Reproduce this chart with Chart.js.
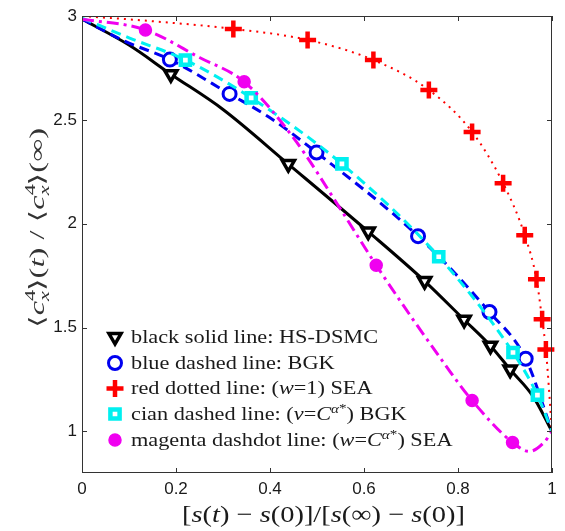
<!DOCTYPE html>
<html>
<head>
<meta charset="utf-8">
<script src="https://cdn.jsdelivr.net/npm/chart.js@4.4.1/dist/chart.umd.min.js"></script>
<style>
html,body{margin:0;padding:0;background:#fff;}
#wrap{width:565px;height:531px;position:relative;}
</style>
</head>
<body>
<div id="wrap"><canvas id="c" width="565" height="531"></canvas></div>
<script>
// ---- tick values / labels ----
const xTickValues = [0, 0.2, 0.4, 0.6, 0.8, 1];
const xTickLabels = ['0', '0.2', '0.4', '0.6', '0.8', '1'];
const yTickValues = [1, 1.5, 2, 2.5, 3];
const yTickLabels = ['1', '1.5', '2', '2.5', '3'];

// ---- black solid line: HS-DSMC ----
const dsmcLineX = [0, 0.1, 0.189, 0.3, 0.439, 0.609, 0.729, 0.813, 0.869, 0.911, 0.96, 1.0];
const dsmcLineY = [2.985, 2.86, 2.72, 2.55, 2.287, 1.962, 1.724, 1.538, 1.413, 1.298, 1.168, 1.0];
const dsmcMarkX = [0.189, 0.439, 0.609, 0.729, 0.813, 0.869, 0.911];
const dsmcMarkY = [2.72, 2.287, 1.962, 1.724, 1.538, 1.413, 1.298];

// ---- blue dashed line: BGK ----
const bgkLineX = [0, 0.09, 0.187, 0.314, 0.40, 0.499, 0.715, 0.867, 0.944, 1.0];
const bgkLineY = [2.985, 2.88, 2.79, 2.625, 2.51, 2.343, 1.94, 1.575, 1.35, 1.0];
const bgkMarkX = [0.187, 0.314, 0.499, 0.715, 0.867, 0.944];
const bgkMarkY = [2.79, 2.625, 2.343, 1.94, 1.575, 1.35];

// ---- red dotted line: (w=1) SEA ----
const seaLineX = [0, 0.15, 0.322, 0.48, 0.62, 0.738, 0.83, 0.896, 0.942, 0.967, 0.979, 0.987, 1.0];
const seaLineY = [3.0, 2.975, 2.938, 2.885, 2.788, 2.644, 2.442, 2.195, 1.945, 1.733, 1.54, 1.394, 1.0];
const seaMarkX = [0.322, 0.48, 0.62, 0.738, 0.83, 0.896, 0.942, 0.967, 0.979, 0.987];
const seaMarkY = [2.938, 2.885, 2.788, 2.644, 2.442, 2.195, 1.945, 1.733, 1.54, 1.394];

// ---- cian dashed line: (nu=C^alpha*) BGK ----
const bgkCLineX = [0, 0.1, 0.22, 0.36, 0.553, 0.759, 0.917, 0.969, 1.0];
const bgkCLineY = [2.99, 2.895, 2.788, 2.606, 2.288, 1.841, 1.38, 1.175, 1.0];
const bgkCMarkX = [0.22, 0.36, 0.553, 0.759, 0.917, 0.969];
const bgkCMarkY = [2.788, 2.606, 2.288, 1.841, 1.38, 1.175];

// ---- magenta dashdot line: (w=C^alpha*) SEA ----
const seaCLineX = [0, 0.135, 0.25, 0.345, 0.45, 0.551, 0.626, 0.78, 0.83, 0.916, 0.952, 0.983, 1.0];
const seaCLineY = [2.985, 2.933, 2.80, 2.683, 2.413, 2.067, 1.80, 1.298, 1.149, 0.947, 0.904, 0.947, 1.0];
const seaCMarkX = [0.135, 0.345, 0.626, 0.83, 0.916];
const seaCMarkY = [2.933, 2.683, 1.80, 1.149, 0.947];

const pts = (xs, ys) => xs.map((v, i) => ({x: v, y: ys[i]}));

const COL = {black:'#000000', blue:'#0000f0', red:'#ff0000', cyan:'#00f0f0', magenta:'#f000f0'};

function lineDs(xs, ys, color, width, dash, order) {
  return {data: pts(xs, ys), showLine: true, borderColor: color, borderWidth: width,
    borderDash: dash, pointRadius: 0, pointHoverRadius: 0, fill: false,
    cubicInterpolationMode: 'monotone', order: order};
}
function markDs(xs, ys, style, order) {
  return Object.assign({data: pts(xs, ys), showLine: false, clip: false, order: order}, style);
}

const MS = {
  black: {pointStyle:'triangle', rotation:180, pointRadius:7, pointBorderWidth:3.5,
          pointBackgroundColor:'#ffffff', pointBorderColor:COL.black},
  blue: {pointStyle:'circle', pointRadius:6.5, pointBorderWidth:3,
          pointBackgroundColor:'#ffffff', pointBorderColor:COL.blue},
  red: {pointStyle:'cross', pointRadius:8.5, pointBorderWidth:4.5,
          pointBackgroundColor:COL.red, pointBorderColor:COL.red},
  cyan: {pointStyle:'rect', pointRadius:6.5, pointBorderWidth:4.5,
          pointBackgroundColor:'#ffffff', pointBorderColor:COL.cyan},
  magenta: {pointStyle:'circle', pointRadius:6, pointBorderWidth:1.5,
          pointBackgroundColor:COL.magenta, pointBorderColor:COL.magenta}
};

const MATH = '"Liberation Serif", "DejaVu Serif", serif';
function fontOf(r, size, fam) {
  return (r.it ? 'italic ' : '') + (size * (r.s || 1)).toFixed(2) + 'px ' + fam;
}
function runsWidth(ctx, runs, size, fam) {
  let w = 0;
  for (const r of runs) { ctx.font = fontOf(r, size, fam); if (r.adv !== false) w += ctx.measureText(r.t).width; }
  return w;
}
function drawRuns(ctx, runs, x, y, size, fam) {
  let cx = x;
  for (const r of runs) {
    ctx.font = fontOf(r, size, fam);
    ctx.fillText(r.t, cx, y + (r.dy || 0) * size);
    if (r.adv !== false) cx += ctx.measureText(r.t).width;
  }
}
function drawFitted(ctx, runs, x, y, size, fam, targetW, center) {
  const w = runsWidth(ctx, runs, size, fam);
  const sx = targetW / w;
  ctx.save();
  ctx.translate(center ? x - targetW / 2 : x, y);
  ctx.scale(sx, 1);
  drawRuns(ctx, runs, 0, 0, size, fam);
  ctx.restore();
  return sx;
}

const yTitleRuns = [
  {t:'\u27E8'}, {t:'c', it:1}, {t:'4', s:.68, dy:-.42, adv:false}, {t:'x', it:1, s:.68, dy:.22},
  {t:'\u27E9('}, {t:'t', it:1}, {t:') / \u27E8'}, {t:'c', it:1}, {t:'4', s:.68, dy:-.42, adv:false},
  {t:'x', it:1, s:.68, dy:.22}, {t:'\u27E9('}, {t:'\u221E'}, {t:')'}
];
const xTitleRuns = [
  {t:'['}, {t:'s', it:1}, {t:'('}, {t:'t', it:1}, {t:') \u2212 '}, {t:'s', it:1}, {t:'(0)]/['},
  {t:'s', it:1}, {t:'(\u221E) \u2212 '}, {t:'s', it:1}, {t:'(0)]'}
];
const legendRows = [
  {m:'black', runs:[{t:'black solid line: HS-DSMC'}]},
  {m:'blue', runs:[{t:'blue dashed line: BGK'}]},
  {m:'red', runs:[{t:'red dotted line: ('}, {t:'w', it:1}, {t:'=1) SEA'}]},
  {m:'cyan', runs:[{t:'cian dashed line: ('}, {t:'\u03BD', it:1}, {t:'='}, {t:'C', it:1},
     {t:'\u03B1', it:1, s:.68, dy:-.4}, {t:'*', s:.68, dy:-.45}, {t:') BGK'}]},
  {m:'magenta', runs:[{t:'magenta dashdot line: ('}, {t:'w', it:1}, {t:'='}, {t:'C', it:1},
     {t:'\u03B1', it:1, s:.68, dy:-.4}, {t:'*', s:.68, dy:-.45}, {t:') SEA'}]}
];

function drawMarker(ctx, m, x, y) {
  const st = MS[m];
  ctx.save();
  ctx.lineWidth = st.pointBorderWidth;
  ctx.strokeStyle = st.pointBorderColor;
  ctx.fillStyle = st.pointBackgroundColor;
  const r = st.pointRadius;
  ctx.beginPath();
  if (m === 'black') {
    ctx.moveTo(x, y + r); ctx.lineTo(x - r * 0.866, y - r * 0.5); ctx.lineTo(x + r * 0.866, y - r * 0.5); ctx.closePath();
    ctx.fill(); ctx.stroke();
  } else if (m === 'blue' || m === 'magenta') {
    ctx.arc(x, y, r, 0, Math.PI * 2); ctx.fill(); ctx.stroke();
  } else if (m === 'red') {
    ctx.moveTo(x - r, y); ctx.lineTo(x + r, y); ctx.moveTo(x, y - r); ctx.lineTo(x, y + r); ctx.stroke();
  } else if (m === 'cyan') {
    const h = r * Math.SQRT1_2; ctx.rect(x - h, y - h, 2 * h, 2 * h); ctx.fill(); ctx.stroke();
  }
  ctx.restore();
}

const decor = {
  id: 'decor',
  afterDatasetsDraw(chart) {
    const ctx = chart.ctx;
    const {left, right, top, bottom} = chart.chartArea;
    const xs = chart.scales.x, ys = chart.scales.y;
    ctx.save();
    ctx.strokeStyle = '#333';
    ctx.lineWidth = 1;
    ctx.strokeRect(left + 0.5, top + 0.5, right - left - 1, bottom - top - 1);
    ctx.beginPath();
    const tl = 5;
    for (const v of xTickValues) {
      const px = Math.round(xs.getPixelForValue(v)) + 0.5;
      ctx.moveTo(px, bottom); ctx.lineTo(px, bottom - tl);
      ctx.moveTo(px, top); ctx.lineTo(px, top + tl);
    }
    for (const v of yTickValues) {
      const py = Math.round(ys.getPixelForValue(v)) + 0.5;
      ctx.moveTo(left, py); ctx.lineTo(left + tl, py);
      ctx.moveTo(right, py); ctx.lineTo(right - tl, py);
    }
    ctx.stroke();
    ctx.restore();

    // legend
    ctx.save();
    ctx.fillStyle = '#1a1a1a';
    ctx.textBaseline = 'alphabetic';
    const LS = 18;
    const w0 = runsWidth(ctx, legendRows[0].runs, LS, MATH);
    const sx = 247 / w0;
    const rowY = [337, 363, 388.5, 414, 440];
    legendRows.forEach((row, i) => {
      drawMarker(ctx, row.m, 115, rowY[i]);
      ctx.save();
      ctx.translate(131, rowY[i] + 0.32 * LS);
      ctx.scale(sx, 1);
      drawRuns(ctx, row.runs, 0, 0, LS, MATH);
      ctx.restore();
    });
    ctx.restore();

    // axis titles
    ctx.save();
    ctx.fillStyle = '#1a1a1a';
    drawFitted(ctx, xTitleRuns, 323.5, 522, 24, MATH, 283, true);
    ctx.restore();
    ctx.save();
    ctx.fillStyle = '#333';
    ctx.translate(37, 228);
    ctx.rotate(-Math.PI / 2);
    drawFitted(ctx, yTitleRuns, 0, 7, 21, MATH, 200, true);
    ctx.restore();
  }
};

new Chart(document.getElementById('c'), {
  type: 'scatter',
  data: {
    datasets: [
      markDs(seaCMarkX, seaCMarkY, MS.magenta, 1),
      lineDs(seaCLineX, seaCLineY, COL.magenta, 3, [12, 5, 3, 5], 2),
      markDs(bgkCMarkX, bgkCMarkY, MS.cyan, 3),
      lineDs(bgkCLineX, bgkCLineY, COL.cyan, 3, [10, 6], 4),
      markDs(seaMarkX, seaMarkY, MS.red, 5),
      lineDs(seaLineX, seaLineY, COL.red, 2, [2, 5], 6),
      markDs(bgkMarkX, bgkMarkY, MS.blue, 7),
      lineDs(bgkLineX, bgkLineY, COL.blue, 3, [10, 6], 8),
      markDs(dsmcMarkX, dsmcMarkY, MS.black, 9),
      lineDs(dsmcLineX, dsmcLineY, COL.black, 3, [], 10)
    ]
  },
  options: {
    responsive: false,
    animation: false,
    events: [],
    layout: {padding: {top: 16, right: 2, left: 0, bottom: 0}},
    plugins: {legend: {display: false}, tooltip: {enabled: false}},
    scales: {
      x: {
        type: 'linear', position: 'bottom', min: 0, max: 1,
        afterBuildTicks: s => { s.ticks = xTickValues.map(v => ({value: v})); },
        ticks: {
          callback: (v) => xTickLabels[xTickValues.indexOf(v)],
          font: {family: '"Liberation Sans", Arial, sans-serif', size: 17},
          color: '#1a1a1a', padding: 6, maxRotation: 0, autoSkip: false
        },
        grid: {display: false, drawTicks: false},
        border: {display: false},
        afterFit: s => { s.height = 58; s.paddingLeft = 0; s.paddingRight = 0; }
      },
      y: {
        type: 'linear', position: 'left', min: 0.8, max: 3,
        afterBuildTicks: s => { s.ticks = yTickValues.map(v => ({value: v})); },
        ticks: {
          callback: (v) => yTickLabels[yTickValues.indexOf(v)],
          font: {family: '"Liberation Sans", Arial, sans-serif', size: 17},
          color: '#1a1a1a', padding: 5, autoSkip: false
        },
        grid: {display: false, drawTicks: false},
        border: {display: false},
        afterFit: s => { s.width = 82; s.paddingTop = 0; s.paddingBottom = 0; }
      }
    }
  },
  plugins: [decor]
});
</script>
</body>
</html>
